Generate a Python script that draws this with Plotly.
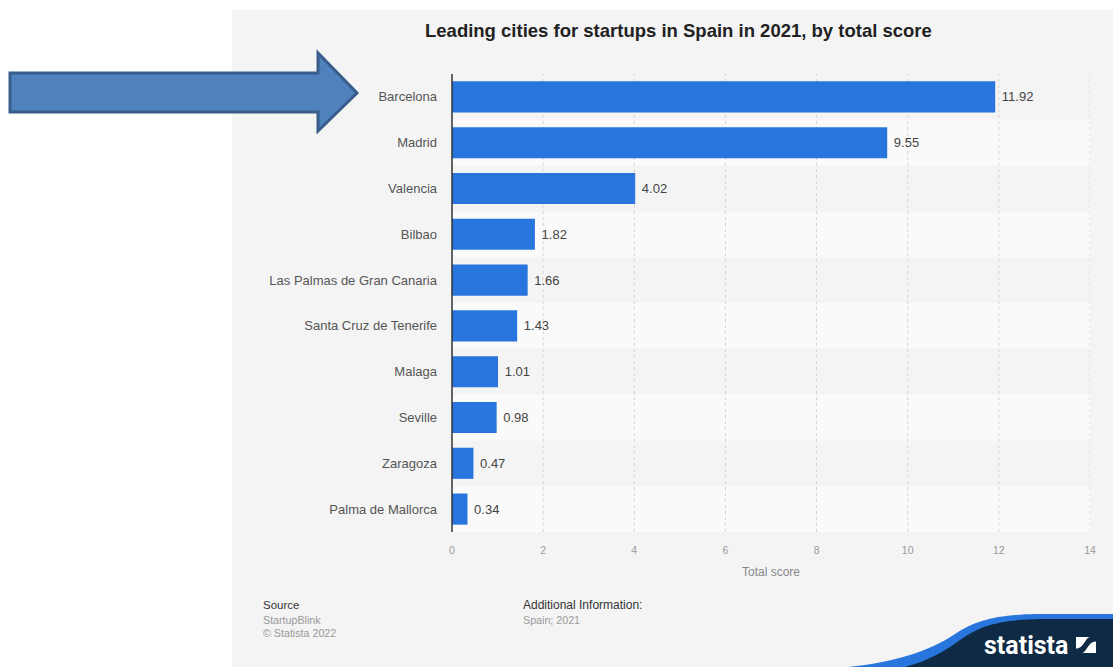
import plotly.graph_objects as go

# Data
cities = ["Barcelona", "Madrid", "Valencia", "Bilbao", "Las Palmas de Gran Canaria",
          "Santa Cruz de Tenerife", "Malaga", "Seville", "Zaragoza", "Palma de Mallorca"]
scores = [11.92, 9.55, 4.02, 1.82, 1.66, 1.43, 1.01, 0.98, 0.47, 0.34]
x_ticks = [0, 2, 4, 6, 8, 10, 12, 14]

W, H = 1113, 667
L, R, T, B = 452, 1090, 74, 532  # plot area in pixels


def px(xp):
    return (xp - L) / (R - L)


def py(yp):
    return (B - yp) / (B - T)


fig = go.Figure()
fig.add_trace(go.Bar(
    x=scores, y=cities, orientation="h",
    marker=dict(color="#2876dd", line=dict(width=0)),
    width=0.68,
    text=[f" {v:.2f}" for v in scores], textposition="outside",
    textfont=dict(family="Liberation Sans, Arial", size=13, color="#444"),
    cliponaxis=False,
    hoverinfo="skip",
))

shapes = []
# grey panel behind the chart
shapes.append(dict(type="rect", xref="paper", yref="paper", layer="below",
                   x0=px(232), x1=px(W), y0=py(H), y1=py(10),
                   fillcolor="#f4f4f4", line=dict(width=0)))
# alternating row bands
for i in range(len(cities)):
    if i % 2 == 1:
        shapes.append(dict(type="rect", xref="paper", yref="y", layer="below",
                           x0=0, x1=1, y0=i - 0.5, y1=i + 0.5,
                           fillcolor="#fafafa", line=dict(width=0)))
# dotted vertical gridlines
for t in x_ticks[1:]:
    shapes.append(dict(type="line", xref="x", yref="paper", layer="below",
                       x0=t, x1=t, y0=0, y1=1,
                       line=dict(color="#d4d4d4", width=1, dash="dot")))
# y axis line
shapes.append(dict(type="line", xref="paper", yref="paper",
                   x0=0, x1=0, y0=0, y1=1, line=dict(color="#333", width=1.5)))

# block arrow pointing at the first city
arrow_pts = [(10, 73), (318, 73), (318, 53), (357, 93), (318, 131), (318, 112), (10, 112)]
path = "M " + " L ".join(f"{px(a):.5f},{py(b):.5f}" for a, b in arrow_pts) + " Z"
shapes.append(dict(type="path", xref="paper", yref="paper", path=path,
                   fillcolor="#4f81bd", line=dict(color="#385d8a", width=3)))


def curve_path(pts):
    (x0, y0), rest = pts[0], pts[1:]
    s = f"M {px(x0):.5f},{py(y0):.5f}"
    for seg in rest:
        if isinstance(seg[0], tuple):
            s += " C " + " ".join(f"{px(a):.5f},{py(b):.5f}" for a, b in seg)
        else:
            s += f" L {px(seg[0]):.5f},{py(seg[1]):.5f}"
    return s + " Z"


# logo wave
shapes.append(dict(type="path", xref="paper", yref="paper",
                   path=curve_path([(848, 667),
                                    ((895, 662), (928, 652), (955, 634)),
                                    ((975, 621), (995, 615), (1035, 614)),
                                    (1113, 614), (1113, 667)]),
                   fillcolor="#2876dd", line=dict(width=0)))
shapes.append(dict(type="path", xref="paper", yref="paper",
                   path=curve_path([(905, 667),
                                    ((930, 660), (945, 651), (960, 640)),
                                    ((980, 626), (997, 620), (1040, 619)),
                                    (1113, 619), (1113, 667)]),
                   fillcolor="#0f2a44", line=dict(width=0)))

# logo icon: square split by an S-shaped band
ix0, ix1, iy0, iy1 = 1076, 1096, 637, 653


def ic(u, v):
    return (ix0 + u * (ix1 - ix0), iy0 + v * (iy1 - iy0))


shapes.append(dict(type="path", xref="paper", yref="paper",
                   path=curve_path([ic(0, 0), ic(0.72, 0),
                                    (ic(0.45, 0), ic(0.42, 0.72), ic(0, 0.72)),
                                    ic(0, 0)]),
                   fillcolor="white", line=dict(width=0)))
shapes.append(dict(type="path", xref="paper", yref="paper",
                   path=curve_path([ic(1, 1), ic(0.28, 1),
                                    (ic(0.55, 1), ic(0.58, 0.28), ic(1, 0.28)),
                                    ic(1, 1)]),
                   fillcolor="white", line=dict(width=0)))

ann = []


def note(xp, yp, text, size, color, xanchor="left", bold=False, family="Liberation Sans, Arial"):
    ann.append(dict(xref="paper", yref="paper", x=px(xp), y=py(yp),
                    text=f"<b>{text}</b>" if bold else text,
                    showarrow=False, xanchor=xanchor, yanchor="middle",
                    font=dict(family=family, size=size, color=color)))


note(678, 30, "Leading cities for startups in Spain in 2021, by total score", 18.5, "#222",
     xanchor="center", bold=True)
note(771, 572, "Total score", 12, "#888", xanchor="center")
note(261, 605, "Source", 11.5, "#333")
note(261, 620, "StartupBlink", 10.7, "#999")
note(261, 633, "© Statista 2022", 10.7, "#999")
note(521, 605, "Additional Information:", 12, "#333")
note(521, 620, "Spain; 2021", 10.7, "#999")
note(1070, 645, "statista", 25, "white", xanchor="right", bold=True, family="Roboto")

fig.update_layout(
    width=W, height=H,
    margin=dict(l=L, r=W - R, t=T, b=H - B, pad=0),
    paper_bgcolor="white", plot_bgcolor="rgba(0,0,0,0)",
    showlegend=False, bargap=0.32,
    shapes=shapes, annotations=ann,
    font=dict(family="Liberation Sans, Arial"),
    xaxis=dict(range=[0, 14], tickvals=x_ticks, showgrid=False, zeroline=False,
               showline=False, ticks="", ticklabelstandoff=10,
               tickfont=dict(size=10.5, color="#999"), fixedrange=True),
    yaxis=dict(categoryorder="array", categoryarray=cities, autorange="reversed",
               showgrid=False, zeroline=False, showline=False, ticks="",
               ticklabelstandoff=14, tickfont=dict(size=13, color="#555"), fixedrange=True),
)

fig.write_html("out.html")
